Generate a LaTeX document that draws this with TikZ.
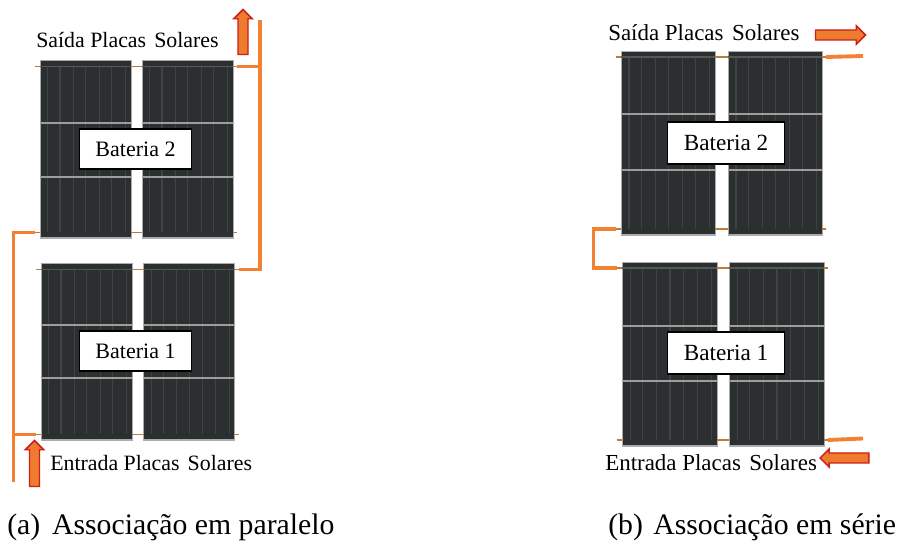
\documentclass[tikz,border=0pt]{standalone}
\usepackage{fontspec}
\setmainfont{Liberation Serif}
\usetikzlibrary{calc,shapes.arrows}
\definecolor{panelfill}{HTML}{2B2F30}
\definecolor{panelrib}{HTML}{3F4344}
\definecolor{panelhead}{HTML}{555859}
\definecolor{panelbar}{HTML}{9C9E9E}
\definecolor{panelrim}{HTML}{ABABAB}
\definecolor{stubcol}{HTML}{C07A3C}
\definecolor{pipecol}{HTML}{F28232}
\definecolor{arrowfill}{HTML}{EE7B2E}
\definecolor{arrowrim}{HTML}{C8201A}
\tikzset{
  x=0.75pt, y=-0.75pt,
  solar/.style={draw=panelrim, line width=0.6pt, fill=panelfill, inner sep=0pt, outer sep=0pt, anchor=north west},
  rib/.style={draw=panelrib, line width=0.8pt},
  headline/.style={draw=panelhead, line width=0.9pt},
  bar/.style={draw=panelbar, line width=1.2pt},
  stub/.style={draw=stubcol, line width=1.3pt},
  pipe/.style={draw=pipecol, line width=2.9pt, line join=miter},
  tag/.style={draw=black, line width=1.1pt, fill=white, minimum width=84pt, minimum height=30pt, inner sep=0pt, font=\fontsize{16.5}{16}\selectfont},
  lab/.style={inner sep=0pt, anchor=base west, font=\fontsize{16.4}{16}\selectfont},
  labwide/.style={inner sep=0pt, anchor=base west, font=\fontsize{17.2}{16}\selectfont},
  captext/.style={inner sep=0pt, anchor=base west, font=\fontsize{22.3}{22}\selectfont},
  flow/.style={single arrow, draw=arrowrim, fill=arrowfill, line width=1.1pt, inner sep=3.2pt, outer sep=0pt,
    single arrow head extend=3.2pt, single arrow head indent=0pt},
}
% one collector: name, left, top, width, height, y of the two cross bars
\newcommand{\collector}[7]{%
  \node[solar, minimum width=#4*0.75pt, minimum height=#5*0.75pt] (#1) at (#2,#3) {};
  \coordinate (#1-ti) at ($(#1.north west)+(0,6)$);
  \coordinate (#1-te) at ($(#1.north east)+(0,6)$);
  \coordinate (#1-bi) at ($(#1.south west)+(0,-6)$);
  \coordinate (#1-be) at ($(#1.south east)+(0,-6)$);
  \foreach \f in {0.085,0.22,0.365,0.505,0.65,0.79,0.94}
    \draw[rib] ($(#1-ti)!\f!(#1-te)$) -- ($(#1-bi)!\f!(#1-be)$);
  \draw[headline] (#1-ti) -- (#1-te);
  \draw[bar] (#1.west |- 0,#6) -- (#1.east |- 0,#6);
  \draw[bar] (#1.west |- 0,#7) -- (#1.east |- 0,#7);
  \draw[draw=panelrim, line width=1.5pt] (#1.south west) -- (#1.south east);
}
% a battery of two collectors with the tubes between and beside them
\newcommand{\tubes}[2]{%
  \coordinate (#1-tl) at ($(#1-ti)+(-5,0)$);
  \coordinate (#1-bl) at ($(#1-bi)+(-5,0)$);
  \coordinate (#2-tr) at ($(#2-te)+(4,0)$);
  \coordinate (#2-br) at ($(#2-be)+(4,0)$);
  \draw[stub] (#1-tl) -- (#1-ti);
  \draw[stub] (#1-bl) -- (#1-bi);
  \draw[stub] (#1-te) -- (#2-ti);
  \draw[stub] (#1-be) -- (#2-bi);
  \draw[stub] (#2-te) -- (#2-tr);
  \draw[stub] (#2-be) -- (#2-br);
}
\begin{document}
\begin{tikzpicture}
\useasboundingbox (0,0) rectangle (900,541);
\fill[white] (0,0) rectangle (900,541);

% parallel arrangement
\collector{aa}{40}{60.5}{91}{178}{123}{177}
\collector{ab}{142}{60.5}{91}{178}{123}{177}
\tubes{aa}{ab}
\collector{ac}{41}{263.5}{91}{177}{325}{378}
\collector{ad}{143.5}{263.5}{91}{177}{325}{378}
\tubes{ac}{ad}
\node[tag] (a2) at (135.5,149) {Bateria 2};
\node[tag] (a1) at (135.5,351) {Bateria 1};

\coordinate (ptop) at (260,20);
\coordinate (pbot) at (13.5,482);
\draw[pipe] (ab-tr) -- (ab-tr -| ptop);
\draw[pipe] (ptop) -- (ptop |- ad-tr) -- (ad-tr);
\draw[pipe] (aa-bl) -- (pbot |- aa-bl) -- (pbot);
\draw[pipe] (pbot |- ac-bl) -- (ac-bl);

\node[flow, shape border rotate=90, minimum height=33.75pt] (aout) at (243,34.5) {};
\node[flow, shape border rotate=90, minimum height=34.5pt] (ain) at (34.5,466) {};

\node[lab] (asai) at (36,47.5) {Saída Placas\hspace{0.12em} Solares};
\node[lab] (aent) at (50,471) {Entrada Placas\hspace{0.12em} Solares};
\node[captext] (acap) at (7,535) {(a)\hspace{0.15em} Associação em paralelo};

% series arrangement
\collector{ba}{621}{51}{94}{184}{114}{170}
\collector{bb}{728}{51}{94}{184}{114}{170}
\tubes{ba}{bb}
\collector{bc}{622}{262}{95}{184}{326}{381}
\collector{bd}{729}{262}{95}{184}{326}{381}
\tubes{bc}{bd}
\node[tag, minimum width=88pt, minimum height=31.5pt, font=\fontsize{17.4}{16}\selectfont] (b2) at (726,143) {Bateria 2};
\node[tag, minimum width=88pt, minimum height=31.5pt, font=\fontsize{17.4}{16}\selectfont] (b1) at (726,353) {Bateria 1};

\coordinate (bleft) at (593.5,250);
\coordinate (boutend) at (863,56);
\coordinate (binend) at (863,438.5);
\draw[pipe] (ba-bl) -- (bleft |- ba-bl) -- (bleft |- bc-tl) -- (bc-tl);
\draw[pipe] (bb-tr) -- (boutend);
\draw[pipe] (bd-br) -- (binend);

\node[flow, minimum height=37.5pt] (bout) at (838,35) {};
\node[flow, shape border rotate=180, minimum height=36.5pt, single arrow head extend=3pt] (bin) at (847,458) {};

\node[labwide] (bsai) at (608,41) {Saída Placas\hspace{0.12em} Solares};
\node[labwide] (bent) at (605,471) {Entrada Placas\hspace{0.12em} Solares};
\node[captext] (bcap) at (608,535) {(b)\hspace{0.1em} Associação em série};
\end{tikzpicture}
\end{document}
